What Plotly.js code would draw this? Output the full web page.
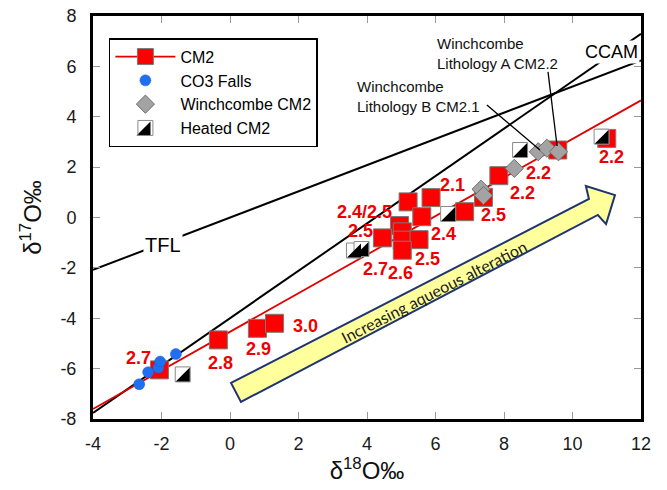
<!DOCTYPE html>
<html><head><meta charset="utf-8">
<script src="https://cdn.plot.ly/plotly-3.0.1.min.js"></script>
<style>html,body{margin:0;padding:0;background:#fff}#chart{width:667px;height:490px}</style>
</head><body><div id="chart"></div>
<script>
// ---- data (δ18O, δ17O) ----
const cm2X = [-2.06, -0.34, 0.80, 1.30, 5.20, 5.87, 5.60, 6.85, 4.95, 5.03, 4.45, 5.03, 5.52, 5.03, 7.40, 7.85, 9.57, 11.00];
const cm2Y = [-6.05, -4.86, -4.40, -4.20, 0.62, 0.79, 0.03, 0.23, -0.32, -0.57, -0.81, -0.90, -0.88, -1.30, 0.80, 1.66, 2.68, 3.14];
const co3X = [-2.65, -2.39, -2.09, -2.04, -1.58];
const co3Y = [-6.62, -6.14, -5.96, -5.72, -5.42];
const winX = [7.33, 7.40, 8.30, 9.00, 9.25, 9.59];
const winY = [1.12, 0.87, 1.95, 2.61, 2.75, 2.61];
const heatX = [-1.38, 3.62, 3.84, 6.37, 8.47, 10.85];
const heatY = [-6.23, -1.31, -1.25, 0.14, 2.68, 3.21];
// reference lines
const lineX = [-4, 12];
const cm2FitY = [-7.60, 4.65];
const tflY = [-2.08, 6.24];
const ccamY = [-7.76, 7.29];
// petrologic subtype labels
const subText = ['2.7','2.8','2.9','3.0','2.4/2.5','2.5','2.7','2.6','2.5','2.4','2.1','2.5','2.2','2.2','2.2'];
const subX = [-2.68, -0.28, 0.83, 2.19, 3.94, 3.80, 4.26, 4.98, 5.78, 6.23, 6.51, 7.68, 8.55, 9.00, 11.14];
const subY = [-5.59, -5.78, -5.24, -4.30, 0.22, -0.53, -2.04, -2.21, -1.65, -0.66, 1.31, 0.08, 0.99, 1.76, 2.41];
const xTicks = [-4, -2, 0, 2, 4, 6, 8, 10, 12];
const yTicks = [-8, -6, -4, -2, 0, 2, 4, 6, 8];

const FONT = 'Arial, "Liberation Sans", sans-serif';
const RED = '#ff0000';

const traces = [
  {x: lineX, y: tflY, mode: 'lines', line: {color: '#000', width: 2}, showlegend: false, hoverinfo: 'skip'},
  {x: lineX, y: ccamY, mode: 'lines', line: {color: '#000', width: 2}, showlegend: false, hoverinfo: 'skip'},
  {x: lineX, y: cm2FitY, mode: 'lines', line: {color: '#e00000', width: 1.8}, showlegend: false, hoverinfo: 'skip'},
  {x: cm2X, y: cm2Y, mode: 'markers', showlegend: false,
   marker: {symbol: 'square', size: 18, color: RED, line: {color: '#7a7a7a', width: 1}}},
  {x: [null], y: [null], mode: 'lines+markers', name: 'CM2', legendrank: 1,
   line: {color: '#e00000', width: 1.8},
   marker: {symbol: 'square', size: 18, color: RED, line: {color: '#7a7a7a', width: 1}}},
  {x: co3X, y: co3Y, mode: 'markers', name: 'CO3 Falls', legendrank: 2,
   marker: {symbol: 'circle', size: 11, color: '#1f6ff2', line: {color: '#1a5fd0', width: 0.5}}},
  {x: winX, y: winY, mode: 'markers', name: 'Winchcombe CM2', legendrank: 3,
   marker: {symbol: 'diamond', size: 14, color: '#a3a3a3', line: {color: '#6e6e6e', width: 1}}},
  {x: heatX, y: heatY, mode: 'markers', showlegend: false,
   marker: {symbol: 'square', size: 15, color: '#ffffff', line: {color: '#8a8a8a', width: 1}}},
  // legend entry: transparent fill so the black half drawn beneath shows through
  {x: [null], y: [null], mode: 'markers', name: 'Heated CM2', legendrank: 4,
   marker: {symbol: 'square', size: 15, color: 'rgba(255,255,255,0)', line: {color: '#8a8a8a', width: 1}}}
];

const shapes = [];
// alteration arrow
shapes.push({type: 'path', xref: 'x', yref: 'y', layer: 'above',
  path: 'M0.03,-6.57 L10.48,0.735 L10.39,1.25 L11.24,0.89 L10.98,-0.26 L10.74,0.10 L0.32,-7.32 Z',
  fillcolor: '#ffff9c', line: {color: '#1f3470', width: 2}});
// leader lines
shapes.push({type: 'line', xref: 'x', yref: 'y', x0: 9.285, y0: 5.78, x1: 9.55, y1: 2.84, line: {color: '#000', width: 1.3}, layer: 'above'});
shapes.push({type: 'line', xref: 'x', yref: 'y', x0: 7.50, y0: 4.47, x1: 9.05, y1: 2.68, line: {color: '#000', width: 1.3}, layer: 'above'});
// black lower-right halves of heated markers
const h = 7;
const halfPath = `M${h},${-h} L${h},${h} L${-h},${-h} Z`;
heatX.forEach((xv, i) => {
  shapes.push({type: 'path', xref: 'x', yref: 'y', xsizemode: 'pixel', ysizemode: 'pixel',
    xanchor: xv, yanchor: heatY[i], layer: 'above',
    path: halfPath, fillcolor: '#000', line: {width: 0}});
});
// same half for the legend symbol of "Heated CM2"
shapes.push({type: 'path', xref: 'paper', yref: 'paper', xsizemode: 'pixel', ysizemode: 'pixel',
  xanchor: 0.0922, yanchor: 0.7211, layer: 'above', path: halfPath, fillcolor: '#000', line: {width: 0}});

const annotations = subText.map((t, i) => ({
  x: subX[i], y: subY[i], xref: 'x', yref: 'y', text: '<b>' + t + '</b>', showarrow: false,
  font: {family: FONT, size: 18, color: '#ee0000'}
}));
annotations.push({x: -1.947, y: -1.09, xref: 'x', yref: 'y', text: 'TFL', showarrow: false,
  bgcolor: '#fff', borderpad: 1, font: {family: FONT, size: 20, color: '#000'}});
annotations.push({x: 11.15, y: 6.58, xref: 'x', yref: 'y', text: 'CCAM', showarrow: false,
  bgcolor: '#fff', borderpad: 1, font: {family: FONT, size: 18, color: '#000'}});
annotations.push({x: 5.985, y: 6.51, xref: 'x', yref: 'y', xanchor: 'left', align: 'left',
  text: 'Winchcombe<br>Lithology A CM2.2', showarrow: false, font: {family: FONT, size: 15, color: '#111'}});
annotations.push({x: 3.65, y: 4.80, xref: 'x', yref: 'y', xanchor: 'left', align: 'left',
  text: 'Winchcombe<br>Lithology B CM2.1', showarrow: false, font: {family: FONT, size: 15, color: '#111'}});
annotations.push({x: 5.95, y: -2.93, xref: 'x', yref: 'y', text: 'Increasing aqueous alteration',
  textangle: -27, showarrow: false, font: {family: 'Lato, "Open Sans", sans-serif', size: 16, color: '#1a1a1a'}});

const axisCommon = {
  showgrid: false, zeroline: false, showline: true, linecolor: '#000', linewidth: 3, mirror: 'ticks',
  ticks: 'inside', ticklen: 7, tickwidth: 1, tickcolor: '#999',
  tickfont: {family: FONT, size: 18, color: '#1a1a1a'}, fixedrange: true
};

const layout = {
  width: 667, height: 490,
  margin: {l: 93, r: 26, t: 16, b: 71},
  paper_bgcolor: '#fff', plot_bgcolor: '#fff',
  font: {family: FONT},
  xaxis: Object.assign({}, axisCommon, {range: [-4, 12], tickvals: xTicks, ticktext: xTicks.map(String),
    ticklabelstandoff: 6,
    title: {text: 'δ<sup>18</sup>O‰', font: {family: FONT, size: 24, color: '#111'}, standoff: 6}}),
  yaxis: Object.assign({}, axisCommon, {range: [-8, 8], tickvals: yTicks, ticktext: yTicks.map(String),
    ticklabelstandoff: 10,
    title: {text: 'δ<sup>17</sup>O‰', font: {family: FONT, size: 24, color: '#111'}, standoff: 12}}),
  legend: {x: 0.029, y: 0.945, xanchor: 'left', yanchor: 'top', bgcolor: 'rgba(255,255,255,0)',
    bordercolor: '#000', borderwidth: 1.5, itemwidth: 60, traceorder: 'normal',
    font: {family: FONT, size: 16, color: '#000'}},
  shapes: shapes,
  annotations: annotations,
  showlegend: true
};

Plotly.newPlot('chart', traces, layout, {displayModeBar: false, staticPlot: true});
</script>
</body></html>
